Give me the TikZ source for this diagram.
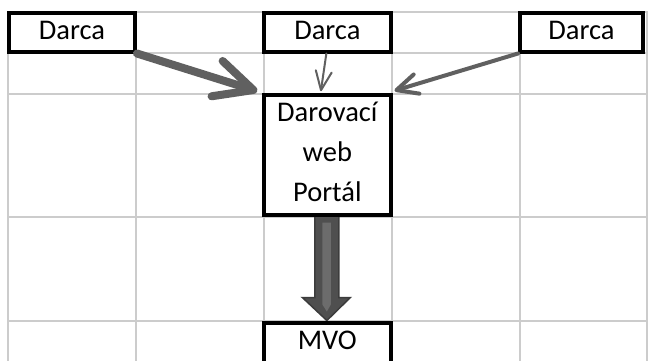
\documentclass[tikz,border=0pt]{standalone}
\usepackage{fontspec}
\setmainfont{Carlito}
\usetikzlibrary{arrows.meta,calc}
\pgfdeclarelayer{background}
\pgfsetlayers{background,main}
\definecolor{gridgray}{HTML}{CCCCCC}
\definecolor{arrowgray}{HTML}{606060}
\definecolor{blockedge}{HTML}{3C3C3C}
\definecolor{blockdark}{HTML}{4F4F4F}
\definecolor{blocklight}{HTML}{6C6C6C}
\tikzset{
  cellfont/.style={font=\fontsize{28.5bp}{40bp}\selectfont},
  cellbox/.style={draw=black, line width=4bp, fill=white, inner sep=0pt, cellfont},
  donorbox/.style={cellbox, minimum height=38.5bp, text depth=4bp},
  celltext/.style={inner sep=0pt, anchor=base, cellfont},
  gridline/.style={draw=gridgray, line width=2.5bp},
  flow/.style={draw=arrowgray, line cap=round, line join=round},
  heavyflow/.style={flow, line width=8bp, -{Straight Barb[length=38bp,width=37bp,round]}},
  midflow/.style={flow, line width=4bp, -{Straight Barb[length=21bp,width=20bp,round]}},
  lightflow/.style={flow, line width=2bp, -{Straight Barb[length=19bp,width=16bp,round]}},
}
\begin{document}
\begin{tikzpicture}[x=1bp,y=-1bp]
\useasboundingbox (0,0) rectangle (648,360);
\clip (0,0) rectangle (648,360);

% sheet grid
\begin{pgfonlayer}{background}
  \fill[white] (0,0) rectangle (648,360);
  \foreach \gx in {8,136,264,392,520,647}
    \draw[gridline] (\gx,12) -- (\gx,362);
  \foreach \gy in {12,53,94,217,321}
    \draw[gridline] (8,\gy) -- (648,\gy);
\end{pgfonlayer}

% donors
\node[donorbox, minimum width=126bp] (dl) at (72,32.25) {Darca};
\node[donorbox, minimum width=127.3bp] (dm) at (327.35,32.25) {Darca};
\node[donorbox, minimum width=123bp] (dr) at (581.5,32.25) {Darca};

% portal
\node[cellbox, minimum width=127.3bp, minimum height=120.6bp] (portal) at (327.35,155) {};
\node[celltext] (p1) at (327.35,121.7) {Darovací};
\node[celltext] (p2) at (327.35,161.7) {web};
\node[celltext] (p3) at (327.35,201.5) {Portál};

% MVO
\node[cellbox, minimum width=127.3bp, minimum height=60bp, anchor=north] (mvo) at (327.35,320.5) {};
\node[celltext] (mvotext) at (327.35,349) {MVO};

% block arrow from portal to MVO
\coordinate (bt) at ($(mvo.north)+(-0.5,0)$);
\coordinate (bs) at ($(bt)+(0,-106)$);
\coordinate (hb) at ($(bt)+(0,-23)$);
\begin{pgfonlayer}{background}
  \filldraw[fill=blockdark, draw=blockedge, line width=1.5bp, line join=miter]
    ($(bs)+(-12,0)$) -- ($(bs)+(12,0)$) -- ($(hb)+(12,0)$)
    -- ($(hb)+(23.5,0)$) -- (bt) -- ($(hb)+(-24.5,0)$) -- ($(hb)+(-12,0)$) -- cycle;
  \fill[blocklight]
    ($(bs)+(-4.5,8)$) -- ($(bs)+(4,8)$) -- ($(bt)+(4,-16)$) -- ($(bt)+(0,-9)$) -- ($(bt)+(-4.5,-16)$) -- cycle;
\end{pgfonlayer}

% donations flowing into the portal
\draw[heavyflow] (dl.south east) -- ([shift={(-4.5bp,1.5bp)}]portal.north west);
\draw[lightflow] ([xshift=-1bp]dm.south) -- ([shift={(-6.5bp,1.5bp)}]portal.north);
\draw[midflow] (dr.south west) -- ([shift={(1.5bp,2bp)}]portal.north east);
\end{tikzpicture}
\end{document}
